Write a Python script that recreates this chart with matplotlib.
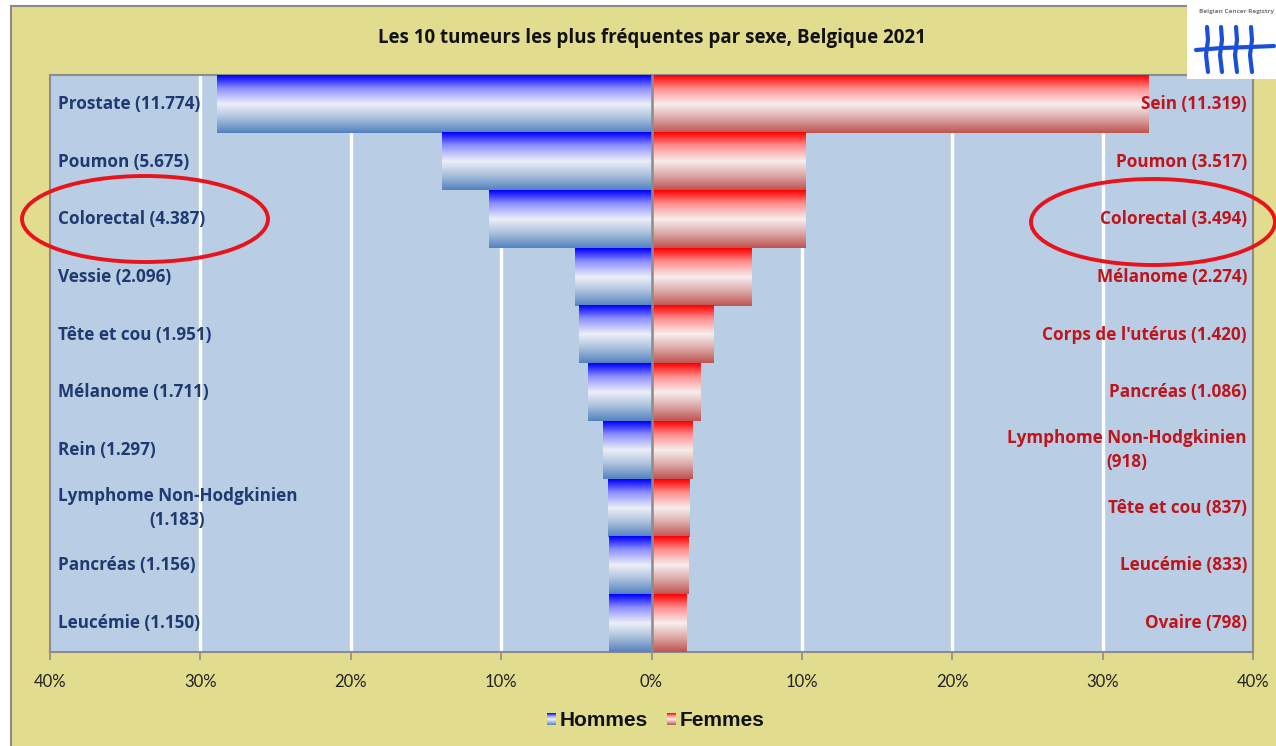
import numpy as np
import matplotlib.pyplot as plt
from matplotlib.colors import LinearSegmentedColormap
from matplotlib.patches import Rectangle, Ellipse

# data (share of all tumours, %)
hommes_labels = ["Prostate (11.774)", "Poumon (5.675)", "Colorectal (4.387)", "Vessie (2.096)",
                 "Tête et cou (1.951)", "Mélanome (1.711)", "Rein (1.297)",
                 "Lymphome Non-Hodgkinien\n(1.183)", "Pancréas (1.156)", "Leucémie (1.150)"]
hommes_pct = [28.9, 13.9, 10.8, 5.1, 4.8, 4.2, 3.2, 2.9, 2.8, 2.8]

femmes_labels = ["Sein (11.319)", "Poumon (3.517)", "Colorectal (3.494)", "Mélanome (2.274)",
                 "Corps de l'utérus (1.420)", "Pancréas (1.086)", "Lymphome Non-Hodgkinien\n(918)",
                 "Tête et cou (837)", "Leucémie (833)", "Ovaire (798)"]
femmes_pct = [33.0, 10.2, 10.2, 6.6, 4.1, 3.2, 2.7, 2.5, 2.4, 2.3]

ticks = [-40, -30, -20, -10, 0, 10, 20, 30, 40]

W, H = 1276, 746
YELLOW = "#e2dc8f"
PLOTBG = "#b9cde5"
NAVY = "#1f3a6e"
DARKRED = "#c0141c"

blue_cm = LinearSegmentedColormap.from_list("b", [(0, "#0000ff"), (0.22, "#8a8cff"),
                                                  (0.5, "#eef0f8"), (0.75, "#a9c0dc"),
                                                  (1, "#5583bf")])
red_cm = LinearSegmentedColormap.from_list("r", [(0, "#ff0000"), (0.22, "#ff8a8a"),
                                                 (0.5, "#f8eeee"), (0.75, "#dca9a8"),
                                                 (1, "#bf5552")])
grad = np.linspace(0, 1, 64).reshape(-1, 1)

plt.rcParams['font.family'] = ['Open Sans', 'DejaVu Sans']

fig = plt.figure(figsize=(W / 100, H / 100), dpi=100, facecolor="white")

# background / frame
bg = fig.add_axes([0, 0, 1, 1], zorder=0)
bg.set_xlim(0, W)
bg.set_ylim(H, 0)
bg.axis("off")
bg.add_patch(Rectangle((11, 6), W, H, facecolor=YELLOW, edgecolor="#8a8a8a", lw=1.5))
bg.text(652, 38, "Les 10 tumeurs les plus fréquentes par sexe, Belgique 2021",
        ha="center", va="center", fontsize=13.5, fontweight="bold", color="#111111")

# main plot
px0, px1, py0, py1 = 50, 1253, 75, 652
ax = fig.add_axes([px0 / W, 1 - py1 / H, (px1 - px0) / W, (py1 - py0) / H], zorder=1)
ax.set_facecolor(PLOTBG)
n = len(hommes_pct)
for i in range(n):
    yc = n - 1 - i
    ax.imshow(grad, cmap=blue_cm, aspect="auto", origin="upper",
              extent=[-hommes_pct[i], 0, yc - 0.5, yc + 0.5], zorder=3, interpolation="bilinear")
    ax.imshow(grad, cmap=red_cm, aspect="auto", origin="upper",
              extent=[0, femmes_pct[i], yc - 0.5, yc + 0.5], zorder=3, interpolation="bilinear")
    ax.text(-39.5, yc, hommes_labels[i], ha="left", va="center", multialignment="center",
            fontsize=12.3, fontweight="bold", color=NAVY, zorder=5, linespacing=1.4)
    ax.text(39.6, yc, femmes_labels[i], ha="right", va="center", multialignment="center",
            fontsize=12.3, fontweight="bold", color=DARKRED, zorder=5, linespacing=1.4)

for t in ticks:
    if t not in (-40, 0, 40):
        ax.axvline(t, color="white", lw=2.4, zorder=2)
ax.axvline(0, color="#8c8c8c", lw=1.8, zorder=4)

ax.set_xlim(-40, 40)
ax.set_ylim(-0.5, n - 0.5)
ax.set_yticks([])
ax.set_xticks(ticks)
ax.set_xticklabels([f"{abs(t)}%" for t in ticks], fontsize=12, color="#222222",
                   family=["Lato"])
ax.tick_params(axis="x", direction="out", length=6, color="#8c8c8c", width=1.2, pad=10)
for s in ax.spines.values():
    s.set_color("#8c8c8c")
    s.set_linewidth(1.5)

# overlay: ellipses, legend, logo
ov = fig.add_axes([0, 0, 1, 1], zorder=3)
ov.set_xlim(0, W)
ov.set_ylim(H, 0)
ov.axis("off")
ov.patch.set_alpha(0)
ov.add_patch(Ellipse((145, 219), 246, 86, fill=False, edgecolor="#e8141c", lw=2.8))
ov.add_patch(Ellipse((1153, 222), 244, 86, fill=False, edgecolor="#e8141c", lw=2.8))

ov.imshow(grad, cmap=blue_cm, aspect="auto", extent=[547, 556, 725, 713], origin="upper")
ov.text(560, 720, "Hommes", ha="left", va="center", fontsize=15, fontweight="bold",
        family=["Liberation Sans"], color="#111111")
ov.imshow(grad, cmap=red_cm, aspect="auto", extent=[667, 676, 725, 713], origin="upper")
ov.text(680, 720, "Femmes", ha="left", va="center", fontsize=15, fontweight="bold",
        family=["Liberation Sans"], color="#111111")

ov.add_patch(Rectangle((1187, 0), 100, 79, facecolor="white", edgecolor="none"))
ov.text(1199, 12, "Belgian Cancer Registry", ha="left", va="center", fontsize=4.6,
        fontweight="bold", color="#777777")
logo_blue = "#1a50d8"
for x in [1207, 1221, 1236, 1251]:
    ov.plot([x, x + 1, x - 1, x + 1], [27, 40, 55, 72], color=logo_blue, lw=3,
            solid_capstyle="round")
ov.plot([1196, 1222, 1250, 1274], [50, 48, 47, 46], color=logo_blue, lw=3,
        solid_capstyle="round")
ov.set_xlim(0, W)
ov.set_ylim(H, 0)

fig.savefig("out.png", dpi=100, facecolor="white")
